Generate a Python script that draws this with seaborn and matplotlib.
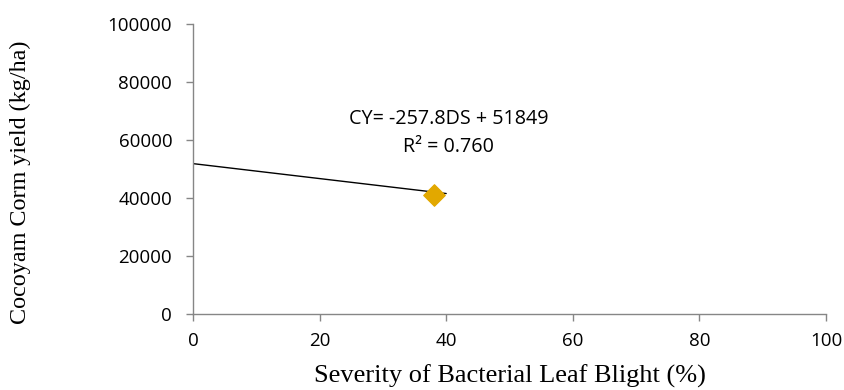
import numpy as np
import pandas as pd
import seaborn as sns
import matplotlib.pyplot as plt

# Data
severity = [38]          # Severity of Bacterial Leaf Blight (%)
corm_yield = [41000]     # Cocoyam corm yield (kg/ha)
slope = -257.8
intercept = 51849
r2 = 0.760
fit_x = [0, 40]

x_ticks = [0, 20, 40, 60, 80, 100]
y_ticks = [0, 20000, 40000, 60000, 80000, 100000]

df = pd.DataFrame({'DS': severity, 'CY': corm_yield})
fit_df = pd.DataFrame({'DS': fit_x, 'CY': [intercept + slope * v for v in fit_x]})

sns.set_style('white')
plt.rcParams['font.family'] = ['Open Sans', 'DejaVu Sans']
plt.rcParams['text.color'] = 'black'
plt.rcParams['axes.labelcolor'] = 'black'

fig = plt.figure(figsize=(8.45, 3.9), dpi=100)
ax = fig.add_axes([0.2284, 0.1949, 0.7491, 0.7436])

sns.lineplot(data=fit_df, x='DS', y='CY', color='black', linewidth=1.0, ax=ax)
sns.scatterplot(data=df, x='DS', y='CY', marker='D', s=120, color='#E2A800',
                edgecolor='#E2A800', ax=ax, zorder=3)

ax.set_xlim(0, 100)
ax.set_ylim(0, 100000)
ax.set_xticks(x_ticks)
ax.set_yticks(y_ticks)
ax.tick_params(axis='both', bottom=True, left=True, labelsize=13.5,
               labelcolor='black', length=5, width=1,
               color='#868686', direction='out')
ax.tick_params(axis='y', pad=10)
ax.tick_params(axis='x', pad=8)

for side in ['top', 'right']:
    ax.spines[side].set_visible(False)
for side in ['left', 'bottom']:
    ax.spines[side].set_color('#868686')
    ax.spines[side].set_linewidth(1)

ax.set_xlabel('Severity of Bacterial Leaf Blight (%)', family='Liberation Serif',
              fontsize=19, va='center', color='black')
ax.set_ylabel('Cocoyam Corm yield (kg/ha)', family='Liberation Serif',
              fontsize=17.4, va='center', color='black')
ax.xaxis.set_label_coords(0.5, -0.214)
ax.yaxis.set_label_coords(-0.2733, 0.455)

ax.text(40.4, 67240, f'CY= {slope}DS + {intercept}', ha='center', va='center',
        fontsize=14.2, color='black')
ax.text(40.4, 57590, f'R² = {r2:.3f}', ha='center', va='center',
        fontsize=14.2, color='black')

plt.savefig('out.png', dpi=100)
